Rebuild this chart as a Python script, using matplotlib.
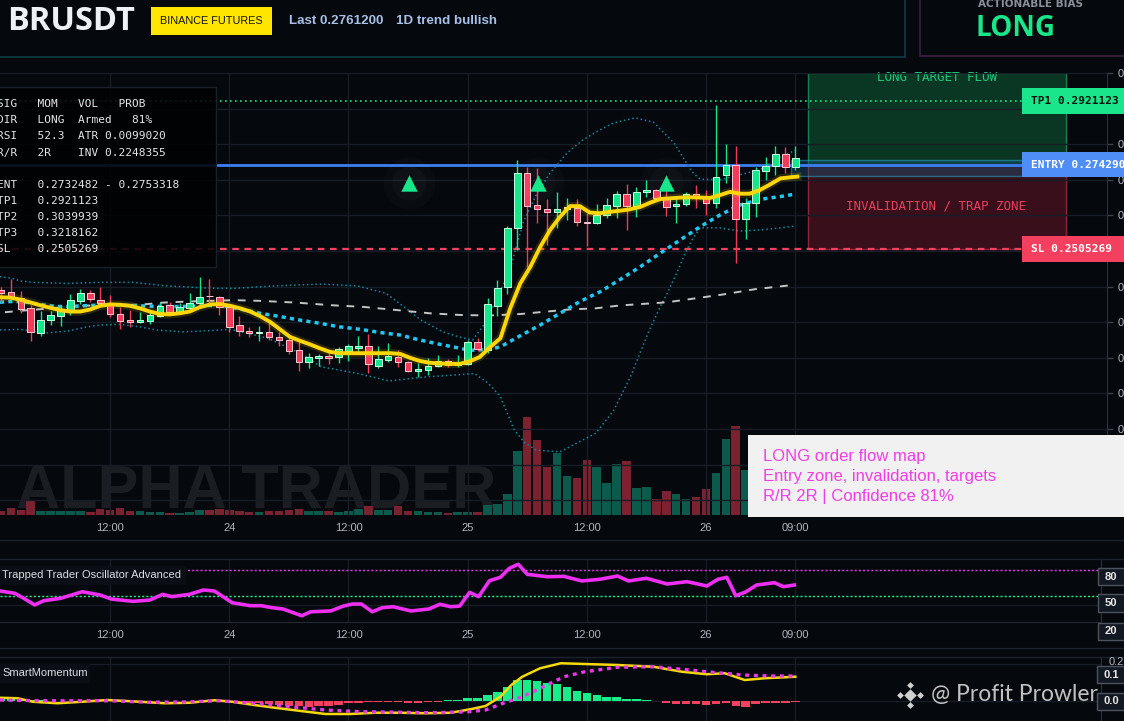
import numpy as np
import matplotlib.pyplot as plt
from matplotlib.patches import Rectangle

# ------------------------------------------------------------
# Values
# ------------------------------------------------------------

SYMBOL = "BRUSDT"
LAST = 0.2761200
TP1, TP2, TP3 = 0.2921123, 0.3039939, 0.3218162
ENTRY = 0.2742900
SL = 0.2505269
ENT_LO, ENT_HI = 0.2732482, 0.2753318
ATR, INV, RSI, CONF = 0.0099020, 0.2248355, 52.3, 81
ZONE_LO, ZONE_HI = 0.2712, 0.2756
OSC_HI, OSC_MID = 80, 50

# hourly candles, hour 1 = 23rd 01:00 ... hour 81 = 26th 09:00
hours = np.arange(1, 82)
opens = [0.2391, 0.2385, 0.2368, 0.2340, 0.2270, 0.2306, 0.2317, 0.2334, 0.2360, 0.2382,
         0.2362, 0.2351, 0.2323, 0.2306, 0.2301, 0.2303, 0.2317, 0.2348, 0.2329, 0.2340,
         0.2354, 0.2374, 0.2371, 0.2343, 0.2292, 0.2275, 0.2269, 0.2272, 0.2258, 0.2250,
         0.2222, 0.2188, 0.2200, 0.2205, 0.2202, 0.2219, 0.2228, 0.2233, 0.2177, 0.2194,
         0.2202, 0.2188, 0.2163, 0.2166, 0.2177, 0.2191, 0.2180, 0.2183, 0.2244, 0.2222,
         0.2346, 0.2399, 0.2565, 0.2719, 0.2629, 0.2618, 0.2610, 0.2618, 0.2621, 0.2582,
         0.2579, 0.2601, 0.2626, 0.2660, 0.2626, 0.2665, 0.2671, 0.2649, 0.2626, 0.2632,
         0.2659, 0.2650, 0.2635, 0.2714, 0.2742, 0.2590, 0.2635, 0.2725, 0.2739, 0.2773,
         0.2736]
highs = [0.2399, 0.2421, 0.2388, 0.2348, 0.2331, 0.2331, 0.2348, 0.2379, 0.2393, 0.2391,
         0.2399, 0.2376, 0.2343, 0.2334, 0.2329, 0.2334, 0.2357, 0.2357, 0.2354, 0.2382,
         0.2427, 0.2421, 0.2374, 0.2348, 0.2317, 0.2287, 0.2289, 0.2298, 0.2272, 0.2256,
         0.2244, 0.2214, 0.2211, 0.2214, 0.2230, 0.2239, 0.2261, 0.2267, 0.2233, 0.2242,
         0.2222, 0.2190, 0.2185, 0.2200, 0.2208, 0.2197, 0.2208, 0.2250, 0.2256, 0.2368,
         0.2419, 0.2570, 0.2756, 0.2736, 0.2733, 0.2646, 0.2666, 0.2649, 0.2646, 0.2607,
         0.2632, 0.2649, 0.2669, 0.2688, 0.2680, 0.2700, 0.2674, 0.2671, 0.2652, 0.2666,
         0.2686, 0.2671, 0.2911, 0.2801, 0.2795, 0.2649, 0.2736, 0.2764, 0.2795, 0.2792,
         0.2795]
lows = [0.2357, 0.2368, 0.2326, 0.2247, 0.2261, 0.2292, 0.2289, 0.2320, 0.2351, 0.2356,
        0.2343, 0.2315, 0.2281, 0.2286, 0.2298, 0.2295, 0.2315, 0.2326, 0.2326, 0.2337,
        0.2348, 0.2354, 0.2320, 0.2273, 0.2261, 0.2258, 0.2247, 0.2250, 0.2233, 0.2211,
        0.2163, 0.2171, 0.2177, 0.2183, 0.2185, 0.2191, 0.2216, 0.2157, 0.2171, 0.2188,
        0.2174, 0.2160, 0.2146, 0.2152, 0.2174, 0.2174, 0.2174, 0.2180, 0.2219, 0.2213,
        0.2317, 0.2379, 0.2503, 0.2455, 0.2579, 0.2517, 0.2565, 0.2587, 0.2570, 0.2514,
        0.2576, 0.2593, 0.2593, 0.2559, 0.2596, 0.2652, 0.2643, 0.2598, 0.2579, 0.2626,
        0.2621, 0.2601, 0.2621, 0.2691, 0.2466, 0.2534, 0.2595, 0.2700, 0.2714, 0.2719,
        0.2728]
closes = [0.2382, 0.2371, 0.2337, 0.2272, 0.2306, 0.2320, 0.2334, 0.2362, 0.2382, 0.2365,
          0.2354, 0.2323, 0.2303, 0.2301, 0.2306, 0.2320, 0.2346, 0.2329, 0.2343, 0.2354,
          0.2371, 0.2373, 0.2343, 0.2287, 0.2275, 0.2270, 0.2273, 0.2258, 0.2250, 0.2219,
          0.2188, 0.2202, 0.2205, 0.2200, 0.2225, 0.2233, 0.2233, 0.2183, 0.2197, 0.2205,
          0.2188, 0.2163, 0.2169, 0.2177, 0.2191, 0.2180, 0.2185, 0.2244, 0.2225, 0.2351,
          0.2396, 0.2565, 0.2719, 0.2626, 0.2618, 0.2610, 0.2618, 0.2624, 0.2582, 0.2579,
          0.2601, 0.2629, 0.2660, 0.2626, 0.2666, 0.2671, 0.2650, 0.2624, 0.2632, 0.2659,
          0.2649, 0.2635, 0.2708, 0.2742, 0.2590, 0.2635, 0.2728, 0.2739, 0.2773, 0.2736,
          0.2761]
volume_k = [40, 67, 47, 147, 40, 40, 40, 40, 40, 30, 57, 47, 67, 40, 40, 30, 30, 20, 20, 30,
            53, 53, 57, 47, 40, 30, 30, 40, 40, 53, 57, 40, 40, 40, 30, 40, 63, 93, 53, 53,
            93, 40, 40, 30, 30, 20, 30, 30, 30, 97, 113, 207, 643, 977, 753, 477, 623, 390, 370, 550,
            480, 320, 513, 540, 270, 280, 160, 240, 210, 160, 180, 260, 420, 760, 890, 450, 400, 300, 350, 300,
            200]

# overlays on price
ema_fast_h = [0.9, 1.9, 2.9, 3.9, 4.9, 5.9, 6.9, 8.0, 9.0, 10.0, 11.0, 12.0, 13.0, 14.0, 15.0,
              16.0, 17.0, 18.0, 19.0, 20.0, 21.0, 22.1, 23.1, 24.1, 25.1, 26.1, 27.1, 28.1, 29.1,
              30.1, 31.1, 32.1, 33.1, 34.1, 35.1, 36.2, 38.2, 40.2, 41.2, 42.2, 43.2, 44.2, 45.2,
              46.2, 47.2, 48.2, 49.2, 50.3, 51.3, 52.3, 53.3, 54.3, 55.3, 56.3, 57.3, 58.3, 59.3,
              60.3, 61.3, 62.3, 63.3, 64.3, 65.4, 66.4, 67.4, 68.4, 69.4, 70.4, 71.4, 72.4, 73.4,
              74.4, 75.4, 76.4, 77.4, 78.4, 79.5, 80.5, 81.2]
ema_fast = [0.2370, 0.2369, 0.2364, 0.2356, 0.2348, 0.2341, 0.2334, 0.2330, 0.2330, 0.2336,
            0.2346, 0.2350, 0.2349, 0.2346, 0.2339, 0.2330, 0.2323, 0.2322, 0.2325, 0.2330,
            0.2342, 0.2350, 0.2351, 0.2346, 0.2339, 0.2330, 0.2317, 0.2301, 0.2280, 0.2259,
            0.2248, 0.2238, 0.2227, 0.2217, 0.2213, 0.2213, 0.2213, 0.2213, 0.2211, 0.2200,
            0.2191, 0.2186, 0.2184, 0.2183, 0.2183, 0.2190, 0.2202, 0.2231, 0.2255, 0.2340,
            0.2409, 0.2455, 0.2511, 0.2559, 0.2596, 0.2626, 0.2626, 0.2608, 0.2606, 0.2610,
            0.2613, 0.2617, 0.2624, 0.2636, 0.2646, 0.2648, 0.2650, 0.2651, 0.2650, 0.2649,
            0.2657, 0.2666, 0.2661, 0.2661, 0.2671, 0.2686, 0.2704, 0.2707, 0.2709]

ema_slow_h = [0.9, 1.9, 2.9, 3.9, 4.9, 5.9, 6.9, 8.0, 9.0, 11.0, 13.0, 15.0, 17.0, 19.0, 21.0,
              23.1, 25.1, 27.1, 29.1, 31.1, 33.1, 35.1, 37.2, 39.2, 41.2, 43.2, 45.2, 47.2, 48.2,
              50.3, 51.3, 53.3, 55.3, 57.3, 59.3, 61.3, 63.3, 65.4, 67.4, 69.4, 71.4, 73.4, 75.4,
              77.4, 79.5, 80.8]
ema_slow = [0.2356, 0.2358, 0.2358, 0.2355, 0.2350, 0.2346, 0.2344, 0.2344, 0.2346, 0.2348,
            0.2348, 0.2346, 0.2344, 0.2344, 0.2346, 0.2348, 0.2337, 0.2325, 0.2316, 0.2306,
            0.2297, 0.2287, 0.2280, 0.2271, 0.2264, 0.2250, 0.2238, 0.2227, 0.2221, 0.2224,
            0.2231, 0.2262, 0.2292, 0.2325, 0.2358, 0.2385, 0.2419, 0.2456, 0.2494, 0.2531,
            0.2568, 0.2601, 0.2629, 0.2645, 0.2653, 0.2659]

ma_long_h = [1.4, 2.9, 5.2, 9.0, 12.0, 15.0, 17.3, 19.7, 22.1, 24.4, 27.1, 30.8, 34.1, 37.5,
             40.9, 44.2, 47.5, 50.3, 53.3, 58.3, 60.9, 63.3, 68.1, 73.5, 77.0, 80.9]
ma_long = [0.2328, 0.2332, 0.2337, 0.2346, 0.2349, 0.2349, 0.2355, 0.2358, 0.2360, 0.2362,
           0.2360, 0.2355, 0.2348, 0.2343, 0.2334, 0.2325, 0.2320, 0.2319, 0.2323, 0.2336,
           0.2339, 0.2347, 0.2356, 0.2377, 0.2393, 0.2405]

bb_up_h = [0.9, 2.2, 2.9, 4.2, 7.7, 11.0, 14.3, 16.0, 17.7, 19.3, 21.0, 22.8, 24.4, 28.6, 33.2,
           36.9, 39.8, 41.6, 43.3, 45.5, 47.2, 48.5, 49.5, 50.9, 52.3, 53.6, 55.0, 56.3, 58.0,
           59.6, 61.3, 62.7, 64.9, 66.7, 68.8, 70.6, 71.4, 73.4, 75.4, 77.4, 79.5, 81.1]
bb_up = [0.2428, 0.2423, 0.2416, 0.2412, 0.2409, 0.2412, 0.2412, 0.2407, 0.2402, 0.2400,
         0.2397, 0.2395, 0.2395, 0.2402, 0.2407, 0.2402, 0.2381, 0.2343, 0.2306, 0.2273,
         0.2258, 0.2250, 0.2287, 0.2362, 0.2452, 0.2581, 0.2663, 0.2719, 0.2775, 0.2812,
         0.2840, 0.2860, 0.2874, 0.2862, 0.2803, 0.2722, 0.2702, 0.2700, 0.2714, 0.2728,
         0.2764, 0.2784]
bb_lo_h = [0.9, 2.9, 4.2, 5.2, 7.7, 9.7, 11.0, 13.0, 15.0, 16.7, 19.3, 21.8, 24.1, 27.9, 31.5,
           33.2, 35.0, 36.9, 40.1, 42.3, 44.1, 46.9, 48.7, 50.1, 51.3, 52.7, 53.8, 54.9, 57.3,
           60.9, 62.7, 64.4, 66.3, 67.4, 68.1, 69.2, 69.9, 70.6, 71.4, 73.4, 75.4, 77.4, 79.5, 81.0]
bb_lo = [0.2278, 0.2280, 0.2275, 0.2269, 0.2275, 0.2287, 0.2292, 0.2294, 0.2287, 0.2278,
         0.2273, 0.2276, 0.2280, 0.2255, 0.2208, 0.2175, 0.2166, 0.2156, 0.2135, 0.2142,
         0.2147, 0.2152, 0.2156, 0.2128, 0.2091, 0.1997, 0.1960, 0.1941, 0.1936, 0.1988,
         0.2052, 0.2147, 0.2278, 0.2344, 0.2381, 0.2447, 0.2494, 0.2531, 0.2565, 0.2565,
         0.2556, 0.2559, 0.2565, 0.2570]

signal_h = [42.1, 55.1, 68.0]
signal_p = [0.2691, 0.2691, 0.2691]

# Trapped Trader Oscillator
osc_h = [0.9, 2.4, 3.3, 4.4, 5.3, 7.0, 9.2, 11.0, 12.1, 14.3, 16.0, 17.3, 18.2, 20.0, 21.4,
         22.5, 24.3, 26.1, 27.2, 28.3, 29.4, 31.3, 32.2, 34.2, 35.5, 36.4, 37.3, 38.4, 39.4,
         40.5, 42.3, 44.1, 45.2, 46.3, 47.2, 48.2, 49.1, 50.2, 51.3, 52.2, 53.1, 54.0, 56.0,
         57.7, 59.5, 61.3, 63.1, 64.2, 66.0, 68.1, 70.1, 72.1, 73.2, 74.1, 75.0, 76.0, 77.1,
         78.9, 79.8, 80.9]
osc = [56.1, 53.5, 47.7, 40.0, 44.9, 47.7, 55.3, 51.5, 46.9, 44.2, 45.7, 52.3, 49.6, 52.3, 57.3,
       56.1, 42.6, 39.2, 39.2, 36.9, 35.4, 27.6, 32.2, 33.1, 38.8, 41.1, 41.1, 32.2, 36.9,
       38.0, 33.1, 35.4, 40.8, 38.0, 38.8, 54.6, 49.6, 68.0, 71.9, 82.3, 86.9, 75.4, 72.6,
       73.0, 67.7, 69.6, 73.4, 67.7, 70.8, 64.2, 66.9, 61.9, 69.6, 71.9, 50.7, 55.0, 63.0,
       65.7, 61.1, 63.0]

# SmartMomentum
mom_h = [0.9, 2.7, 4.2, 6.7, 9.2, 11.7, 15.0, 17.5, 20.0, 22.5, 24.3, 26.5, 28.6, 31.2, 33.7,
         36.2, 38.7, 41.2, 43.7, 46.3, 48.4, 49.8, 51.3, 52.4, 53.5, 55.3, 57.4, 59.8, 63.1,
         66.7, 69.6, 72.1, 73.9, 75.9, 77.9, 81.0]
mom = [0.013, 0.011, -0.003, -0.009, -0.003, 0.004, -0.003, -0.009, -0.007, 0.003, -0.003,
       -0.016, -0.027, -0.040, -0.052, -0.052, -0.047, -0.047, -0.049, -0.047, -0.032, -0.020,
       0.017, 0.064, 0.097, 0.131, 0.151, 0.148, 0.144, 0.137, 0.117, 0.107, 0.111, 0.084,
       0.091, 0.097]
mom_sig_h = [0.9, 4.9, 8.5, 12.1, 15.8, 19.3, 22.9, 26.5, 30.1, 33.7, 37.3, 40.9, 44.5, 48.1,
             49.8, 51.7, 53.5, 55.3, 57.7, 59.8, 63.1, 66.7, 69.6, 72.1, 75.7, 78.5, 81.0]
mom_sig = [0.004, 0.001, 0.001, 0.001, -0.005, -0.004, 0.001, -0.009, -0.023, -0.036, -0.043,
           -0.045, -0.047, -0.043, -0.036, -0.007, 0.017, 0.051, 0.097, 0.117, 0.135, 0.137,
           0.127, 0.117, 0.104, 0.100, 0.100]
mom_hist = [0.011, 0.009, 0.008, 0.005, 0.003, 0.001, 0.001, 0.001, 0.001, 0.001,
            0.001, 0.001, 0.001, 0.001, 0.001, -0.001, -0.001, -0.001, 0.001, 0.001,
            0.001, -0.001, -0.001, -0.003, -0.004, -0.007, -0.009, -0.012, -0.016, -0.019,
            -0.020, -0.023, -0.020, -0.019, -0.016, -0.009, -0.007, -0.005, -0.004, -0.003,
            -0.003, -0.007, -0.007, -0.004, -0.003, 0.003, 0.004, 0.013, 0.013, 0.024,
            0.037, 0.057, 0.084, 0.084, 0.080, 0.071, 0.067, 0.057, 0.040, 0.033,
            0.024, 0.017, 0.017, 0.009, 0.008, 0.004, -0.001, -0.009, -0.012, -0.012,
            -0.012, -0.016, -0.012, -0.007, -0.019, -0.023, -0.011, -0.009, -0.007, -0.007,
            -0.003]

xtick_pos = [12, 24, 36, 48, 60, 72, 81]
xtick_lab = ["12:00", "24", "12:00", "25", "12:00", "26", "09:00"]
price_ticks = np.round(np.arange(0.18, 0.3001, 0.01), 2)

# ------------------------------------------------------------
# Style / layout
# ------------------------------------------------------------

BG = "#05080d"
GRID = "#161d26"
TXT = "#b2b5be"
UP = "#14e68a"
DOWN = "#f23a5b"
W, H = 1124, 721
MONO = "DejaVu Sans Mono"

plt.rcParams["font.family"] = ["Liberation Sans", "DejaVu Sans"]


def hx(px):
    # pixel column -> hour on the shared time axis
    return (px + 9) / 9.93


fig = plt.figure(figsize=(W / 100, H / 100), dpi=100, facecolor=BG)


def px_axes(x0, y0, x1, y1):
    return fig.add_axes([x0 / W, 1 - y1 / H, (x1 - x0) / W, (y1 - y0) / H])


# ------------------------------------------------------------
# Main price panel
# ------------------------------------------------------------

ax_v = px_axes(0, 73, 1107, 515)
ax = fig.add_axes(ax_v.get_position(), sharex=ax_v)
ax_v.set_zorder(1)
ax.set_zorder(2)
ax_v.set_facecolor(BG)
ax.patch.set_visible(False)

# volume + watermark (behind)
o, h, l, c = map(np.array, (opens, highs, lows, closes))
up = c >= o
ax_v.text(hx(16), 70, "ALPHA TRADER", weight="bold", fontsize=44, color="#1a1d22",
          va="baseline", ha="left", zorder=0)
ax_v.bar(hours, volume_k, 0.86, color=np.where(up, "#0c5a4b", "#7a2230"), zorder=1)
ax_v.set_ylim(0, 4420)
ax_v.set_xlim(hx(0), hx(1107))
ax_v.axis("off")

ax.set_ylim(0.17585, 0.30)
ax.set_xlim(hx(0), hx(1107))
ax.grid(True, color=GRID, lw=1, zorder=0)

# zones
ax.add_patch(Rectangle((hx(808), ENTRY), hx(1066) - hx(808), 0.30 - ENTRY,
                       fc="#0b4429", alpha=0.8, ec="#1c9a62", lw=1, zorder=1))
ax.add_patch(Rectangle((hx(808), SL), hx(1066) - hx(808), ENTRY - SL,
                       fc="#4a1221", alpha=0.75, ec="#b3304a", lw=1, zorder=1))
ax.add_patch(Rectangle((hx(791), ZONE_LO), hx(1066) - hx(791), ZONE_HI - ZONE_LO,
                       fc="#1a4f6e", alpha=0.45, ec="#1ec8ef", lw=1, zorder=1.2))
ax.text(hx(937), 0.2986, "LONG TARGET FLOW", family=MONO, fontsize=9, color="#1fc77a",
        ha="center", va="center", zorder=1.5)
ax.text(hx(936), 0.2626, "INVALIDATION / TRAP ZONE", family=MONO, fontsize=9,
        color="#e8405c", ha="center", va="center", zorder=1.5)

# levels
ax.axhline(TP1, color="#19e68c", lw=1.2, ls=(0, (1, 2)), zorder=1.6)
ax.axhline(ENTRY, color="#3b7ff2", lw=2, zorder=1.6)
ax.axhline(SL, color="#f2405e", lw=1.6, ls=(0, (3, 2.5)), zorder=1.6)

# bands and averages
ax.plot(bb_up_h, bb_up, color="#1487a0", lw=1.1, ls=(0, (1, 1.8)), zorder=2)
ax.plot(bb_lo_h, bb_lo, color="#1487a0", lw=1.1, ls=(0, (1, 1.8)), zorder=2)
ax.plot(ma_long_h, ma_long, color="#c4c4c4", lw=1.4, ls=(0, (4, 4)), zorder=2.2)
ax.plot(ema_slow_h, ema_slow, color="#22c6ee", lw=2.5, ls=(0, (1.2, 1.2)), zorder=2.4)

# candles
col = np.where(up, UP, DOWN)
edge = np.where(up, "#c8ffe2", "#ffc8d2")
ax.vlines(hours, l, h, colors=col, lw=1, zorder=3)
ax.bar(hours, np.maximum(np.abs(c - o), 0.00012), 0.66, bottom=np.minimum(o, c),
       color=col, edgecolor=edge, linewidth=0.7, zorder=3.5)

ax.plot(ema_fast_h, ema_fast, color="#ffd60a", lw=6, alpha=0.15, zorder=3.8)
ax.plot(ema_fast_h, ema_fast, color="#ffd60a", lw=2.8, zorder=4)

# buy signals with soft glow
ax.scatter(signal_h, signal_p, s=1400, color="white", alpha=0.018, lw=0, zorder=4.5)
ax.scatter(signal_h, signal_p, s=600, color="white", alpha=0.025, lw=0, zorder=4.5)
ax.scatter(signal_h, signal_p, s=140, marker="^", color="#17e68a", lw=0, zorder=5)

# right price labels
for val, txt, fc, tc in [(TP1, f"TP1 {TP1:.7f}", "#1be58b", "#07140d"),
                         (ENTRY, f"ENTRY {ENTRY:.7f}", "#4f8ef7", "white"),
                         (SL, f"SL {SL:.7f}", "#f2405e", "white")]:
    ax.add_patch(Rectangle((hx(1022), val - 0.0036), hx(1130) - hx(1022), 0.0072,
                           fc=fc, ec="none", clip_on=False, zorder=8))
    ax.text(hx(1031), val, txt, family=MONO, weight="bold", fontsize=8, color=tc,
            va="center", ha="left", clip_on=False, zorder=9)

ax.set_xticks(xtick_pos)
ax.set_xticklabels(xtick_lab)
ax.tick_params(axis="x", length=0, pad=6, labelsize=8, labelcolor=TXT)
ax.yaxis.tick_right()
ax.set_yticks(price_ticks)
ax.set_yticklabels([f"{v:.4f}" for v in price_ticks])
ax.tick_params(axis="y", length=4, width=1, color="#3a3f48", pad=4, labelsize=8,
               labelcolor=TXT)
for s in ax.spines.values():
    s.set_visible(False)
ax.spines["right"].set_visible(True)
ax.spines["right"].set_color("#2b313a")

# ------------------------------------------------------------
# Trapped Trader Oscillator
# ------------------------------------------------------------

ax_o = px_axes(0, 559, 1101, 622)
ax_o.set_facecolor(BG)
ax_o.set_xlim(hx(0), hx(1101))
ax_o.set_ylim(20.4, 93.0)
ax_o.axhline(OSC_HI, color="#e33be6", lw=1, ls=(0, (1.5, 1.5)))
ax_o.axhline(OSC_MID, color="#1ef08a", lw=1, ls=(0, (1.5, 1.5)))
ax_o.plot(osc_h, osc, color="#ee2ef0", lw=2.6, zorder=3)
ax_o.set_xticks(xtick_pos)
ax_o.set_xticklabels(xtick_lab)
ax_o.set_yticks([40])
ax_o.set_yticklabels([])
ax_o.grid(True, color=GRID, lw=1)
ax_o.tick_params(axis="x", length=0, pad=6, labelsize=8, labelcolor=TXT)
ax_o.tick_params(axis="y", length=0)
for s in ax_o.spines.values():
    s.set_visible(False)
ax_o.spines["right"].set_visible(True)
ax_o.spines["right"].set_color("#2b313a")
ax_o.spines["bottom"].set_visible(True)
ax_o.spines["bottom"].set_color("#222a33")

# ------------------------------------------------------------
# SmartMomentum
# ------------------------------------------------------------

ax_m = px_axes(0, 657, 1101, 721)
ax_m.set_facecolor(BG)
ax_m.set_xlim(hx(0), hx(1101))
ax_m.set_ylim(-0.08, 0.176)
hist = np.array(mom_hist)
ax_m.bar(hours, hist, 0.85, color=np.where(hist >= 0, "#19ed8a", "#f2405e"), zorder=2)
ax_m.plot(mom_h, mom, color="#f5d90a", lw=1.8, zorder=3)
ax_m.plot(mom_sig_h, mom_sig, color="#e838e8", lw=2.4, ls=(0, (1.2, 1.4)), zorder=3)
ax_m.set_xticks(xtick_pos)
ax_m.set_xticklabels([])
ax_m.set_yticks([0, 0.15])
ax_m.set_yticklabels([])
ax_m.grid(True, color=GRID, lw=1)
ax_m.tick_params(length=0)
for s in ax_m.spines.values():
    s.set_visible(False)
ax_m.spines["right"].set_visible(True)
ax_m.spines["right"].set_color("#2b313a")

# ------------------------------------------------------------
# Overlay: header, table, panel titles, notes
# ------------------------------------------------------------

ov = fig.add_axes([0, 0, 1, 1])
ov.set_xlim(0, W)
ov.set_ylim(H, 0)
ov.axis("off")
ov.set_zorder(10)
ov.patch.set_alpha(0)

for yy in (540, 559, 648, 657):
    ov.plot([0, W], [yy, yy], color="#1b242d", lw=1)

ov.add_patch(Rectangle((-2, -2), 907, 58.7, fill=False, ec="#0f3d46", lw=1.2))
ov.add_patch(Rectangle((920, -2), 210, 58, fill=False, ec="#3d1d44", lw=1.2))
ov.text(7, 21, SYMBOL, family=["Open Sans", "DejaVu Sans"], weight="bold", fontsize=23.5,
        color="#eef2f6", va="center", ha="left")
ov.add_patch(Rectangle((151, 7), 121, 28, fc="#ffe600", ec="none"))
ov.text(211.5, 21.5, "BINANCE FUTURES", fontsize=7.8, color="#111111",
        va="center", ha="center")
ov.text(289, 21, f"Last {LAST:.7f}", weight="bold", fontsize=9.6,
        color="#a8bfe6", va="center", ha="left")
ov.text(396, 21, "1D trend bullish", weight="bold", fontsize=9.6,
        color="#a8bfe6", va="center", ha="left")
ov.text(1031, 4, "ACTIONABLE BIAS", family="DejaVu Sans", weight="bold", fontsize=7.5,
        color="#8a9099", va="center", ha="center")
ov.text(1016, 28, "LONG", family=["Open Sans", "DejaVu Sans"], weight="bold", fontsize=20,
        color="#19e88a", va="center", ha="center")

# signal table
ov.add_patch(Rectangle((-2, 87), 218, 180, fc="#010203", ec="#1d242c", lw=1, alpha=0.88))
table_rows = [
    (104, "SIG   MOM   VOL   PROB"),
    (120, f"DIR   LONG  Armed   {CONF}%"),
    (136, f"RSI   {RSI}  ATR {ATR:.7f}"),
    (153, f"R/R   2R    INV {INV:.7f}"),
    (185, f"ENT   {ENT_LO:.7f} - {ENT_HI:.7f}"),
    (201, f"TP1   {TP1:.7f}"),
    (217, f"TP2   {TP2:.7f}"),
    (233, f"TP3   {TP3:.7f}"),
    (249, f"SL    {SL:.7f}"),
]
for yy, row in table_rows:
    ov.text(-3, yy, row, family=MONO, fontsize=8, color="#e6e6e6", va="center", ha="left")

# order flow note
ov.add_patch(Rectangle((748, 435), 380, 82, fc="#f1f1f1", ec="none"))
for yy, line in [(456, "LONG order flow map"),
                 (476, "Entry zone, invalidation, targets"),
                 (496, f"R/R 2R | Confidence {CONF}%")]:
    ov.text(763, yy, line, fontsize=12, color="#f03de6", va="center", ha="left")

# panel titles
ov.add_patch(Rectangle((0, 566), 186, 19, fc="#0b0f15", ec="none"))
ov.text(2, 575.5, "Trapped Trader Oscillator Advanced", fontsize=8, color="#d9dce0",
        va="center", ha="left")
ov.add_patch(Rectangle((0, 664), 90, 19, fc="#0b0f15", ec="none"))
ov.text(2, 673, "SmartMomentum", fontsize=8, color="#d9dce0", va="center", ha="left")

# right scale chips of lower panels
for y0, y1, txt in [(568, 585, "80"), (594, 612, "50"), (623, 640, "20")]:
    ov.add_patch(Rectangle((1098, y0), 32, y1 - y0, fc="#131922", ec="#4d535c", lw=1))
    ov.text(1105, (y0 + y1) / 2, txt, fontsize=8, weight="bold", color="#e8e8e8",
            va="center", ha="left")
ov.text(1109, 662, "0.2", fontsize=8, color=TXT, va="center", ha="left")
for y0, y1, txt in [(666, 683, "0.1"), (693, 710, "0.0")]:
    ov.add_patch(Rectangle((1097, y0), 32, y1 - y0, fc="#131922", ec="#4d535c", lw=1))
    ov.text(1104, (y0 + y1) / 2, txt, fontsize=8, weight="bold", color="#e8e8e8",
            va="center", ha="left")

# watermark
ov.scatter([910], [695], marker="D", s=40, color="#d0d0d0", lw=0)
ov.scatter([900, 920, 910, 910], [695, 695, 685, 705], marker="D", s=12, color="#d0d0d0", lw=0)
ov.text(931, 695, "@ Profit Prowler", family=["Lato", "DejaVu Sans"], fontsize=16.5,
        color="#d6d6d6", alpha=0.9, va="center", ha="left")

fig.savefig("out.png", dpi=100, facecolor=BG)
